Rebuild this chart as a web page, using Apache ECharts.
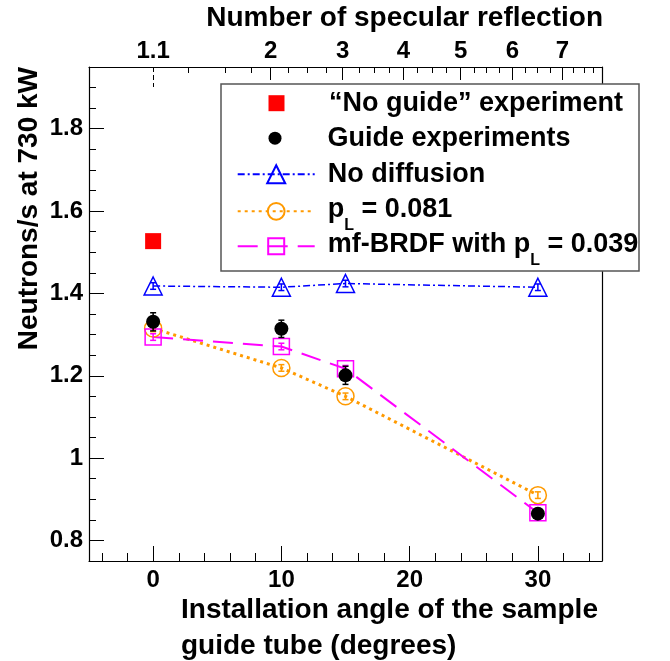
<!DOCTYPE html>
<html><head><meta charset="utf-8">
<script src="https://cdn.jsdelivr.net/npm/echarts@6/dist/echarts.min.js"></script>
<style>html,body{margin:0;padding:0;background:#fff}#c{width:670px;height:661px}</style>
</head><body><div id="c"></div>
<script>
// ---- data ----
const angles = [0, 10, 15, 30];
const noGuideAngles = [0];
const noGuideValues = [1.527];
const guideValues = [1.331, 1.314, 1.201, 0.865];
const guideErrors = [0.022, 0.021, 0.022, 0.008];
const noDiffValues = [1.418, 1.415, 1.424, 1.415];
const pL081Values = [1.315, 1.219, 1.150, 0.910];
const mfBrdfValues = [1.294, 1.271, 1.217, 0.867];
const simErrors = [0.008, 0.008, 0.008, 0.008];

const seriesNames = ['\u201cNo guide\u201d experiment', 'Guide experiments', 'No diffusion', 'p_L = 0.081', 'mf-BRDF with p_L = 0.039'];

const yMajorTicks = [0.8, 1, 1.2, 1.4, 1.6, 1.8];
const yMinorTicks = [0.75, 0.85, 0.9, 0.95, 1.05, 1.1, 1.15, 1.25, 1.3, 1.35, 1.45, 1.5, 1.55, 1.65, 1.7, 1.75, 1.85, 1.9, 1.95];
const xMajorTicks = [0, 10, 20, 30];
const xMinorTicks = [-4, -2, 2, 4, 6, 8, 12, 14, 16, 18, 22, 24, 26, 28, 32, 34];
const reflAngles = [0, 9.17, 14.77, 19.51, 23.98, 28.01, 31.91];
const reflLabels = ['1.1', '2', '3', '4', '5', '6', '7'];
const reflMinorAngles = [2.70, 5.61, 7.69, 10.54, 12.02, 13.48, 16.08, 17.25, 18.42, 20.63, 21.80, 22.89, 25.04, 26.01, 27.00, 29.00, 29.99, 30.95, 32.76, 33.62, 34.32];

// ---- style ----
const FONT = 'Liberation Sans';
const BLUE = '#0000ff', ORANGE = '#ff9a00', MAGENTA = '#ff00ff';
const pairs = (xs, ys) => xs.map((x, i) => [x, ys[i]]);
const errData = (xs, ys, es) => xs.map((x, i) => [x, ys[i] - es[i], ys[i] + es[i]]);

function errRender(color) {
  return function (params, api) {
    const x = api.value(0), lo = api.value(1), hi = api.value(2);
    const p1 = api.coord([x, lo]), p2 = api.coord([x, hi]);
    const w = 3, st = { stroke: color, lineWidth: 1.5 };
    return { type: 'group', children: [
      { type: 'line', shape: { x1: p1[0], y1: p1[1], x2: p2[0], y2: p2[1] }, style: st },
      { type: 'line', shape: { x1: p1[0] - w, y1: p1[1], x2: p1[0] + w, y2: p1[1] }, style: st },
      { type: 'line', shape: { x1: p2[0] - w, y1: p2[1], x2: p2[0] + w, y2: p2[1] }, style: st }
    ] };
  };
}

const hidden = { show: false };
const axisBase = { type: 'value', min: -5, max: 35, splitLine: hidden };
const tickStyle = { color: '#000', width: 1 };

const xAxes = [
  Object.assign({}, axisBase, { position: 'bottom',
    axisLine: { show: true, onZero: false, lineStyle: { color: '#000', width: 1.2 } },
    axisTick: { show: true, inside: true, length: 15, customValues: xMajorTicks, lineStyle: tickStyle },
    axisLabel: { customValues: xMajorTicks, margin: 7, color: '#000', fontFamily: FONT, fontWeight: 'bold', fontSize: 24 } }),
  Object.assign({}, axisBase, { position: 'bottom', axisLine: { show: false, onZero: false },
    axisTick: { show: true, inside: true, length: 8, customValues: xMinorTicks, lineStyle: tickStyle },
    axisLabel: hidden }),
  Object.assign({}, axisBase, { position: 'top',
    axisLine: { show: true, onZero: false, lineStyle: { color: '#000', width: 1.2 } },
    axisTick: { show: true, inside: true, length: 13, customValues: reflAngles.slice(1), lineStyle: tickStyle },
    axisLabel: { customValues: reflAngles, margin: 4, color: '#000', fontFamily: FONT, fontWeight: 'bold', fontSize: 24,
      formatter: v => reflLabels[reflAngles.indexOf(v)] } }),
  Object.assign({}, axisBase, { position: 'top', axisLine: { show: false, onZero: false },
    axisTick: { show: true, inside: true, length: 6, customValues: reflMinorAngles, lineStyle: tickStyle },
    axisLabel: hidden }),
  Object.assign({}, axisBase, { position: 'top', axisLine: { show: false, onZero: false },
    axisTick: { show: true, inside: true, length: 20, customValues: [reflAngles[0]], lineStyle: { color: '#000', width: 1, type: [5, 3] } },
    axisLabel: hidden })
];

const yBase = { type: 'value', min: 0.75, max: 1.95, splitLine: hidden };
const yAxes = [
  Object.assign({}, yBase, { position: 'left',
    axisLine: { show: true, onZero: false, lineStyle: { color: '#000', width: 1.2 } },
    axisTick: { show: true, inside: true, length: 15, customValues: yMajorTicks, lineStyle: tickStyle },
    axisLabel: { customValues: yMajorTicks, margin: 6, color: '#000', fontFamily: FONT, fontWeight: 'bold', fontSize: 24,
      formatter: v => String(v) } }),
  Object.assign({}, yBase, { position: 'left', axisLine: { show: false, onZero: false },
    axisTick: { show: true, inside: true, length: 7, customValues: yMinorTicks, lineStyle: tickStyle },
    axisLabel: hidden }),
  Object.assign({}, yBase, { position: 'right',
    axisLine: { show: true, onZero: false, lineStyle: { color: '#000', width: 1.2 } },
    axisTick: hidden, axisLabel: hidden })
];

function legendTextStyle(pad) {
  return { color: '#000', fontFamily: FONT, fontWeight: 'bold', fontSize: 27, padding: [0, 0, 0, pad],
    rich: {
      n: { color: '#000', fontFamily: FONT, fontWeight: 'bold', fontSize: 27, lineHeight: 30, verticalAlign: 'top' },
      s: { color: '#000', fontFamily: FONT, fontWeight: 'bold', fontSize: 16, lineHeight: 16, verticalAlign: 'top', padding: [21, 0, 0, 0] }
    } };
}
const richFmt = name => {
  const parts = name.split('p_L');
  return '{n|' + parts[0] + 'p}{s|L}{n|' + parts[1] + '}';
};
const legendRowCenters = [101.7, 136.7, 172.7, 208.3, 243.3];
const legendItemHeights = [16, 13, 22.5, 21, 20];
function makeLegend(i, icon) {
  const isRich = seriesNames[i].indexOf('p_L') >= 0;
  const H = isRich ? 30 : Math.max(27, legendItemHeights[i]);
  return {
    show: true, orient: 'vertical', left: icon ? 268.5 : 236.7, top: legendRowCenters[i] - H / 2 + (isRich ? 3 : 1.5),
    padding: 0, itemWidth: 77, itemHeight: legendItemHeights[i], z: 10,
    selectedMode: false,
    data: [icon ? { name: seriesNames[i], icon: icon } : seriesNames[i]],
    textStyle: legendTextStyle(icon ? 9 : 8),
    formatter: isRich ? richFmt : undefined
  };
}

const option = {
  animation: false,
  backgroundColor: '#fff',
  grid: { left: 89, right: 68, top: 67, bottom: 100, containLabel: false },
  xAxis: xAxes,
  yAxis: yAxes,
  legend: [
    makeLegend(0, 'path://M0,0L1,0L1,1L0,1Z'),
    makeLegend(1, 'circle'),
    makeLegend(2), makeLegend(3), makeLegend(4)
  ],
  graphic: [
    { type: 'rect', z: 6, shape: { x: 221, y: 84, width: 418, height: 187 },
      style: { fill: '#fff', stroke: '#555', lineWidth: 1.5 } },
    { type: 'text', x: 603, y: 18, style: { text: 'Number of specular reflection', fill: '#000',
      font: 'bold 28px "' + FONT + '"', textAlign: 'right', textVerticalAlign: 'middle' } },
    { type: 'text', x: 181, y: 610, style: { text: 'Installation angle of the sample', fill: '#000',
      font: 'bold 28px "' + FONT + '"', textAlign: 'left', textVerticalAlign: 'middle' } },
    { type: 'text', x: 181, y: 646, style: { text: 'guide tube (degrees)', fill: '#000',
      font: 'bold 28px "' + FONT + '"', textAlign: 'left', textVerticalAlign: 'middle' } },
    { type: 'text', x: 29, y: 67, rotation: Math.PI / 2, style: { text: 'Neutrons/s at 730 kW', fill: '#000',
      font: 'bold 28px "' + FONT + '"', textAlign: 'right', textVerticalAlign: 'middle' } }
  ],
  series: [
    { name: seriesNames[2], type: 'line', xAxisIndex: 0, yAxisIndex: 0, z: 2,
      data: pairs(angles, noDiffValues), symbol: 'triangle', symbolSize: 18,
      lineStyle: { color: BLUE, width: 1.5, type: [7, 3, 2, 3] },
      itemStyle: { color: 'rgba(255,255,255,0)', borderColor: BLUE, borderWidth: 1.5 } },
    { name: seriesNames[3], type: 'line', xAxisIndex: 0, yAxisIndex: 0, z: 2,
      data: pairs(angles, pL081Values), symbol: 'circle', symbolSize: 17,
      lineStyle: { color: ORANGE, width: 3, type: [3, 4], cap: 'butt' },
      itemStyle: { color: 'rgba(255,255,255,0)', borderColor: ORANGE, borderWidth: 1.5 } },
    { name: seriesNames[4], type: 'line', xAxisIndex: 0, yAxisIndex: 0, z: 2,
      data: pairs(angles, mfBrdfValues), symbol: 'rect', symbolSize: 16,
      lineStyle: { color: MAGENTA, width: 2, type: [20, 10] },
      itemStyle: { color: 'rgba(255,255,255,0)', borderColor: MAGENTA, borderWidth: 1.5 } },
    { name: 'noDiffErr', type: 'custom', xAxisIndex: 0, yAxisIndex: 0, z: 3,
      renderItem: errRender(BLUE), data: errData(angles, noDiffValues, simErrors) },
    { name: 'pLErr', type: 'custom', xAxisIndex: 0, yAxisIndex: 0, z: 3,
      renderItem: errRender(ORANGE), data: errData(angles, pL081Values, simErrors) },
    { name: 'mfErr', type: 'custom', xAxisIndex: 0, yAxisIndex: 0, z: 3,
      renderItem: errRender(MAGENTA), data: errData(angles, mfBrdfValues, simErrors) },
    { name: seriesNames[1], type: 'scatter', xAxisIndex: 0, yAxisIndex: 0, z: 5,
      data: pairs(angles, guideValues), symbol: 'circle', symbolSize: 14,
      itemStyle: { color: '#000', opacity: 1 } },
    { name: 'guideErr', type: 'custom', xAxisIndex: 0, yAxisIndex: 0, z: 6,
      renderItem: errRender('#000'), data: errData(angles, guideValues, guideErrors) },
    { name: seriesNames[0], type: 'scatter', xAxisIndex: 0, yAxisIndex: 0, z: 5,
      data: pairs(noGuideAngles, noGuideValues), symbol: 'rect', symbolSize: 16,
      itemStyle: { color: '#ff0000', opacity: 1 } }
  ]
};
const chart = echarts.init(document.getElementById('c'), null, { renderer: 'canvas' });
chart.setOption(option);
</script></body></html>
